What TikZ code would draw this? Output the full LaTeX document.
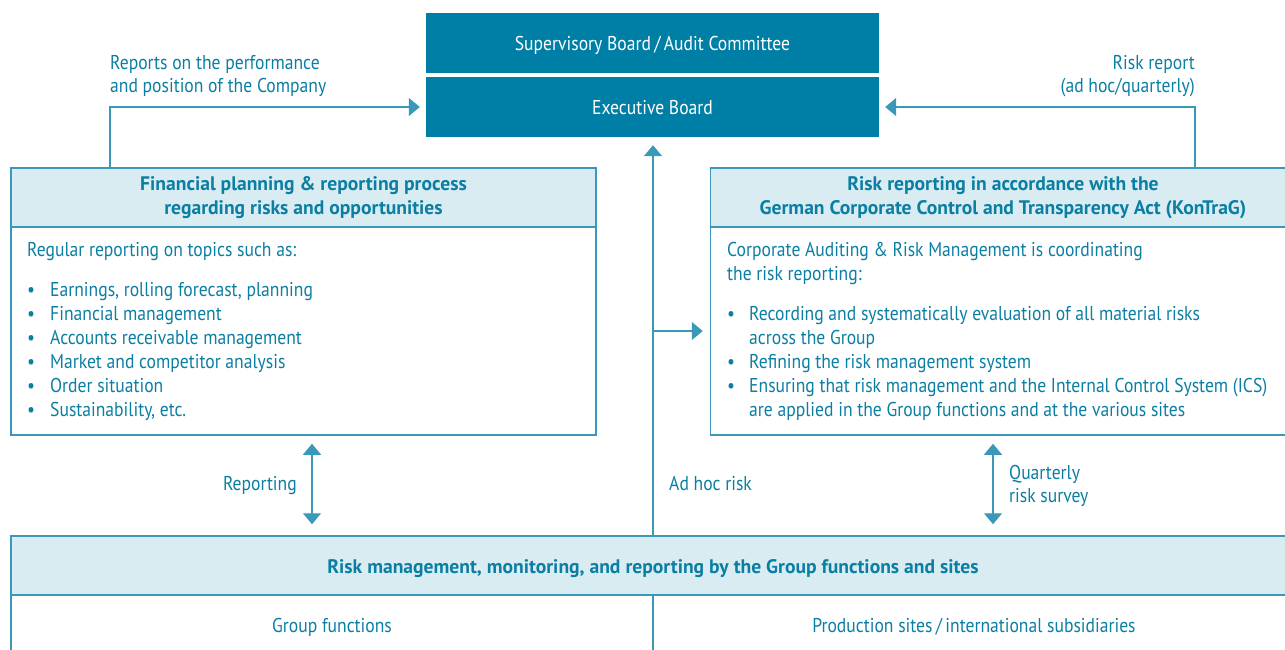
\documentclass[tikz,border=0pt]{standalone}
\usepackage{fontspec}
\setmainfont{PT Sans}[FakeStretch=0.88]
\newfontfamily\headfont{PT Sans}
\usepackage{tikz}
\usetikzlibrary{arrows.meta}
\definecolor{tealdark}{HTML}{007FA6}
\definecolor{tealtext}{HTML}{0B7EA3}
\definecolor{teallight}{HTML}{D9ECF2}
\definecolor{tealline}{HTML}{3A98B8}
\begin{document}
\begin{tikzpicture}[x=1pt,y=-1pt,
   board/.style={fill=tealdark,text=white,inner sep=0pt,minimum width=453pt,minimum height=60pt,text height=15pt,text depth=0pt,font=\fontsize{20}{24}\selectfont},
   head/.style={draw=tealline,fill=teallight,line width=1.5pt,inner sep=0pt,minimum height=59pt,align=center,text=tealtext,font=\fontsize{19.6}{24}\selectfont\headfont\bfseries},
   body/.style={draw=tealline,line width=1.5pt,inner sep=0pt,minimum height=208pt,minimum width=585pt},
   cell/.style={draw=tealline,line width=1.5pt,inner sep=0pt,minimum height=60pt,minimum width=642pt,text height=15pt,text depth=0pt,text=tealtext,font=\fontsize{20}{24}\selectfont},
   txt/.style={inner sep=0pt,text=tealtext,font=\fontsize{20}{24}\selectfont},
   flow/.style={draw=tealline,line width=1.3pt,-{Triangle[width=18pt,length=11pt]}},
   both/.style={draw=tealline,line width=1.3pt,{Triangle[width=18pt,length=11pt]}-{Triangle[width=18pt,length=11pt]}}]
   \useasboundingbox (0,0) rectangle (1285,649);
   \clip (0,0) rectangle (1285,649);
   %gremios
   \node[board] (sup) at (652.5,43) {Supervisory Board\,/\,Audit Committee};
   \node[board] (exe) at (652.5,107) {Executive Board};
   %cajas
   \node[head,minimum width=585pt] (finhead) at (303.5,197.5) {Financial planning \& reporting process\\regarding risks and opportunities};
   \node[body] (finbody) at (303.5,331) {};
   \node[head,minimum width=585pt] (riskhead) at (1003,197.5) {Risk reporting in accordance with the\\German Corporate Control and Transparency Act (KonTraG)};
   \node[body] (riskbody) at (1003,331) {};
   \node[head,minimum width=1284pt,text height=15pt,text depth=0pt] (bothead) at (653,565.5) {Risk management, monitoring, and reporting by the Group functions and sites};
   \node[cell] (gf) at (332,625) {Group functions};
   \node[cell] (ps) at (974,625) {Production sites\,/\,international subsidiaries};
   %texto izquierda
   \node[txt,anchor=base west] (fintop) at (27,256) {Regular reporting on topics such as:};
   \foreach \y/\t [count=\i] in {296/{Earnings, rolling forecast, planning},320/Financial management,
      344/Accounts receivable management,368/Market and competitor analysis,392/Order situation,416/{Sustainability, etc.}}{
      \node[txt,anchor=base west] (finb\i) at (27,\y) {\textbullet};
      \node[txt,anchor=base west] (fint\i) at (50,\y) {\t};
   }
   %texto derecha
   \node[txt,anchor=base west] (risktop1) at (727,256) {Corporate Auditing \& Risk Management is coordinating};
   \node[txt,anchor=base west] (risktop2) at (727,280) {the risk reporting:};
   \foreach \y in {320,368,392}
      \node[txt,anchor=base west] (riskb\y) at (727,\y) {\textbullet};
   \foreach \y/\t [count=\i] in {320/Recording and systematically evaluation of all material risks,344/across the Group,
      368/Refining the risk management system,392/Ensuring that risk management and the Internal Control System (ICS),
      416/are applied in the Group functions and at the various sites}
      \node[txt,anchor=base west] (riskt\i) at (749,\y) {\t};
   %etiquetas
   \node[txt,anchor=base west] (rep1) at (110,69) {Reports on the performance};
   \node[txt,anchor=base west] (rep2) at (110,92) {and position of the Company};
   \node[txt,anchor=base east] (rr1) at (1195,69) {Risk report};
   \node[txt,anchor=base east] (rr2) at (1195,92) {(ad hoc/quarterly)};
   \node[txt,anchor=base east] (lrep) at (297,490) {Reporting};
   \node[txt,anchor=base west] (ladhoc) at (669,490) {Ad hoc risk};
   \node[txt,anchor=base west] (lq1) at (1009,479) {Quarterly};
   \node[txt,anchor=base west] (lq2) at (1009,502) {risk survey};
   %flechas
   \coordinate (cl) at (110,106);
   \coordinate (cr) at (1195,106);
   \coordinate (cf) at (312,0);
   \coordinate (cq) at (993,0);
   \draw[flow,shorten >=6pt] (finhead.north -| cl) |- (exe.west);
   \draw[flow,shorten >=6pt] (riskhead.north -| cr) |- (exe.east);
   \draw[flow,shorten >=8pt] (bothead.north) -- (exe.south -| bothead.north);
   \draw[flow,shorten >=7pt] (bothead.north |- riskbody.west) -- (riskbody.west);
   \draw[both,shorten <=8pt,shorten >=11pt] (finbody.south -| cf) -- (bothead.north -| cf);
   \draw[both,shorten <=8pt,shorten >=11pt] (riskbody.south -| cq) -- (bothead.north -| cq);
\end{tikzpicture}
\end{document}
